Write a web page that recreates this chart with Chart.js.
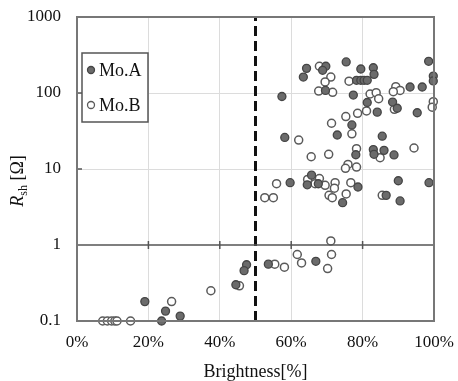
<!DOCTYPE html>
<html>
<head>
<meta charset="utf-8">
<script src="https://cdn.jsdelivr.net/npm/chart.js@4/dist/chart.umd.min.js"></script>
<style>
  html, body { margin: 0; padding: 0; background: #fff; }
  #wrap { width: 458px; height: 381px; }
</style>
</head>
<body>
<div id="wrap"><canvas id="chart-area"></canvas></div>
<script>
var brightA = [64.3, 63.4, 69.7, 68.8, 75.4, 79.5, 83.0, 83.2, 78.3, 79.5, 80.4, 81.3, 98.5, 99.8, 99.8,
  57.4, 69.6, 77.4, 93.3, 96.7, 81.3, 88.4, 89.7, 84.1, 95.3, 77.0, 72.9, 58.2, 85.5, 83.0,
  83.2, 86.0, 78.1, 88.8, 59.7, 65.7, 64.5, 90.0, 98.6, 78.7, 67.6, 86.6, 90.5, 74.4, 47.5,
  46.8, 53.6, 66.9, 44.5, 19.0, 24.8, 28.9, 23.7];
var rshA = [211, 162, 225, 199, 256, 207, 215, 176, 147, 147, 147, 147, 261, 167, 144,
  90, 108, 94, 120, 120, 75, 76, 63, 56, 55, 38, 28, 26, 27, 18,
  15.6, 17.6, 15.4, 15.3, 6.6, 8.3, 6.2, 7.0, 6.6, 5.8, 6.4, 4.5, 3.8, 3.6, 0.55,
  0.46, 0.56, 0.61, 0.30, 0.18, 0.135, 0.116, 0.1];
var brightB = [67.9, 71.1, 69.5, 67.7, 71.6, 76.2, 82.1, 83.8, 84.5, 89.3, 90.5, 88.6, 99.8, 99.5, 88.9,
  81.1, 78.6, 75.3, 71.3, 77.0, 62.1, 78.3, 84.9, 94.4, 65.6, 70.5, 75.9, 75.2, 78.3, 55.9,
  64.6, 67.9, 66.7, 69.5, 72.3, 76.7, 72.1, 52.6, 55.0, 70.6, 71.5, 75.4, 85.5, 71.1, 61.7,
  62.9, 71.3, 55.4, 58.1, 70.2, 45.5, 37.5, 26.5, 7.2, 8.5, 9.7, 10.6, 11.2, 15.0];
var rshB = [225, 162, 140, 106, 102, 143, 97, 101, 84, 121, 108, 104, 77, 65, 61,
  58, 54, 49, 40, 29, 24, 18.5, 14.1, 18.9, 14.5, 15.6, 11.5, 10.2, 10.6, 6.4,
  7.3, 7.5, 6.4, 6.1, 6.6, 6.6, 5.6, 4.2, 4.2, 4.5, 4.2, 4.7, 4.5, 1.13, 0.75,
  0.58, 0.75, 0.56, 0.51, 0.49, 0.29, 0.25, 0.18, 0.1, 0.1, 0.1, 0.1, 0.1, 0.1];
var seriesNames = ['Mo.A', 'Mo.B'];
var threshold = 50;
var xTicks = [0, 20, 40, 60, 80, 100];
var xTickLabels = ['0%', '20%', '40%', '60%', '80%', '100%'];
var yTicks = [0.1, 1, 10, 100, 1000];
var yTickLabels = ['0.1', '1', '10', '100', '1000'];

function toPoints(xs, ys) {
  return xs.map(function(x, i) { return { x: x, y: ys[i] }; });
}

var serif = "'Liberation Serif', 'DejaVu Serif', serif";

var framePlugin = {
  id: 'frame',
  afterDatasetsDraw: function(chart) {
    var ctx = chart.ctx, a = chart.chartArea;
    var xs = chart.scales.x, ys = chart.scales.y;
    ctx.save();
    // line at y = 1 with tick marks
    var y1 = ys.getPixelForValue(1);
    ctx.strokeStyle = '#555';
    ctx.lineWidth = 1.5;
    ctx.beginPath();
    ctx.moveTo(a.left, y1);
    ctx.lineTo(a.right, y1);
    xTicks.forEach(function(v) {
      if (v === 0 || v === 100) return;
      var px = xs.getPixelForValue(v);
      ctx.moveTo(px, y1 - 4);
      ctx.lineTo(px, y1 + 4);
    });
    yTicks.forEach(function(v) {
      var py = ys.getPixelForValue(v);
      ctx.moveTo(a.left, py);
      ctx.lineTo(a.left + 5, py);
    });
    ctx.stroke();
    // outer box
    ctx.strokeStyle = '#777';
    ctx.lineWidth = 2;
    ctx.strokeRect(a.left, a.top, a.right - a.left, a.bottom - a.top);

    // legend
    ctx.fillStyle = '#fff';
    ctx.fillRect(82, 53, 66, 69);
    ctx.strokeStyle = '#555';
    ctx.lineWidth = 1.5;
    ctx.strokeRect(82, 53, 66, 69);
    var rows = [70, 105];
    chart.data.datasets.slice(0, 2).forEach(function(ds, i) {
      ctx.beginPath();
      ctx.arc(91, rows[i], 3.5, 0, Math.PI * 2);
      ctx.fillStyle = ds.backgroundColor;
      ctx.fill();
      ctx.lineWidth = 1.3;
      ctx.strokeStyle = ds.borderColor;
      ctx.stroke();
      ctx.fillStyle = '#111';
      ctx.font = '18px ' + serif;
      ctx.textBaseline = 'middle';
      ctx.textAlign = 'left';
      ctx.fillText(ds.label, 99, rows[i] + 1);
    });

    // y title: R_sh [Ω]
    ctx.translate(23, 181);
    ctx.rotate(-Math.PI / 2);
    ctx.fillStyle = '#111';
    ctx.textBaseline = 'alphabetic';
    ctx.font = 'italic 18px ' + serif;
    var wR = ctx.measureText('R').width;
    ctx.font = '12px ' + serif;
    var wS = ctx.measureText('sh').width;
    ctx.font = '18px ' + serif;
    var wO = ctx.measureText(' [\u03A9]').width;
    var x0 = -(wR + wS + wO) / 2;
    ctx.font = 'italic 18px ' + serif;
    ctx.fillText('R', x0, 0);
    ctx.font = '12px ' + serif;
    ctx.fillText('sh', x0 + wR, 4);
    ctx.font = '18px ' + serif;
    ctx.fillText(' [\u03A9]', x0 + wR + wS, 0);
    ctx.restore();
  }
};

new Chart(document.getElementById('chart-area'), {
  type: 'scatter',
  data: {
    datasets: [ {
      label: seriesNames[0],
      data: toPoints(brightA, rshA),
      backgroundColor: '#6b6b6b',
      borderColor: '#454545',
      borderWidth: 1.3,
      pointRadius: 4,
      clip: false
    }, {
      label: seriesNames[1],
      data: toPoints(brightB, rshB),
      backgroundColor: '#ffffff',
      borderColor: '#5a5a5a',
      borderWidth: 1.5,
      pointRadius: 4,
      clip: false
    }, {
      type: 'line',
      label: 'threshold',
      data: [ { x: threshold, y: yTicks[0] }, { x: threshold, y: yTicks[yTicks.length - 1] } ],
      borderColor: '#111',
      borderWidth: 3,
      borderDash: [10, 5],
      pointRadius: 0,
      fill: false
    } ]
  },
  options: {
    responsive: true,
    maintainAspectRatio: false,
    animation: false,
    layout: { padding: { left: 0, right: 24, top: 17, bottom: 0 } },
    plugins: {
      legend: { display: false },
      tooltip: { enabled: false }
    },
    scales: {
      x: {
        type: 'linear',
        min: 0,
        max: 100,
        afterBuildTicks: function(s) {
          s.ticks = xTicks.map(function(v) { return { value: v }; });
        },
        afterFit: function(s) {
          s.height = 60;
          s.paddingLeft = 0;
          s.paddingRight = 0;
        },
        ticks: {
          color: '#111',
          font: { family: serif, size: 17 },
          padding: 11,
          maxRotation: 0,
          callback: function(v) { return xTickLabels[xTicks.indexOf(v)]; }
        },
        grid: {
          drawTicks: false,
          color: function(c) {
            var v = c.tick && c.tick.value;
            return (v === 0 || v === 100) ? 'rgba(0,0,0,0)' : '#dcdcdc';
          }
        },
        border: { display: false },
        title: {
          display: true,
          text: 'Brightness[%]',
          color: '#111',
          font: { family: serif, size: 18, lineHeight: 1 },
          padding: { top: 0, bottom: 0 }
        }
      },
      y: {
        type: 'logarithmic',
        min: 0.1,
        max: 1000,
        afterBuildTicks: function(s) {
          s.ticks = yTicks.map(function(v) { return { value: v }; });
        },
        afterFit: function(s) {
          s.width = 77;
          s.paddingTop = 0;
          s.paddingBottom = 0;
        },
        ticks: {
          color: '#111',
          font: { family: serif, size: 17 },
          padding: 16,
          callback: function(v) { return yTickLabels[yTicks.indexOf(v)]; }
        },
        grid: {
          drawTicks: false,
          color: function(c) {
            var v = c.tick && c.tick.value;
            return (v === 10 || v === 100) ? '#dcdcdc' : 'rgba(0,0,0,0)';
          }
        },
        border: { display: false }
      }
    }
  },
  plugins: [framePlugin]
});
</script>
</body>
</html>
